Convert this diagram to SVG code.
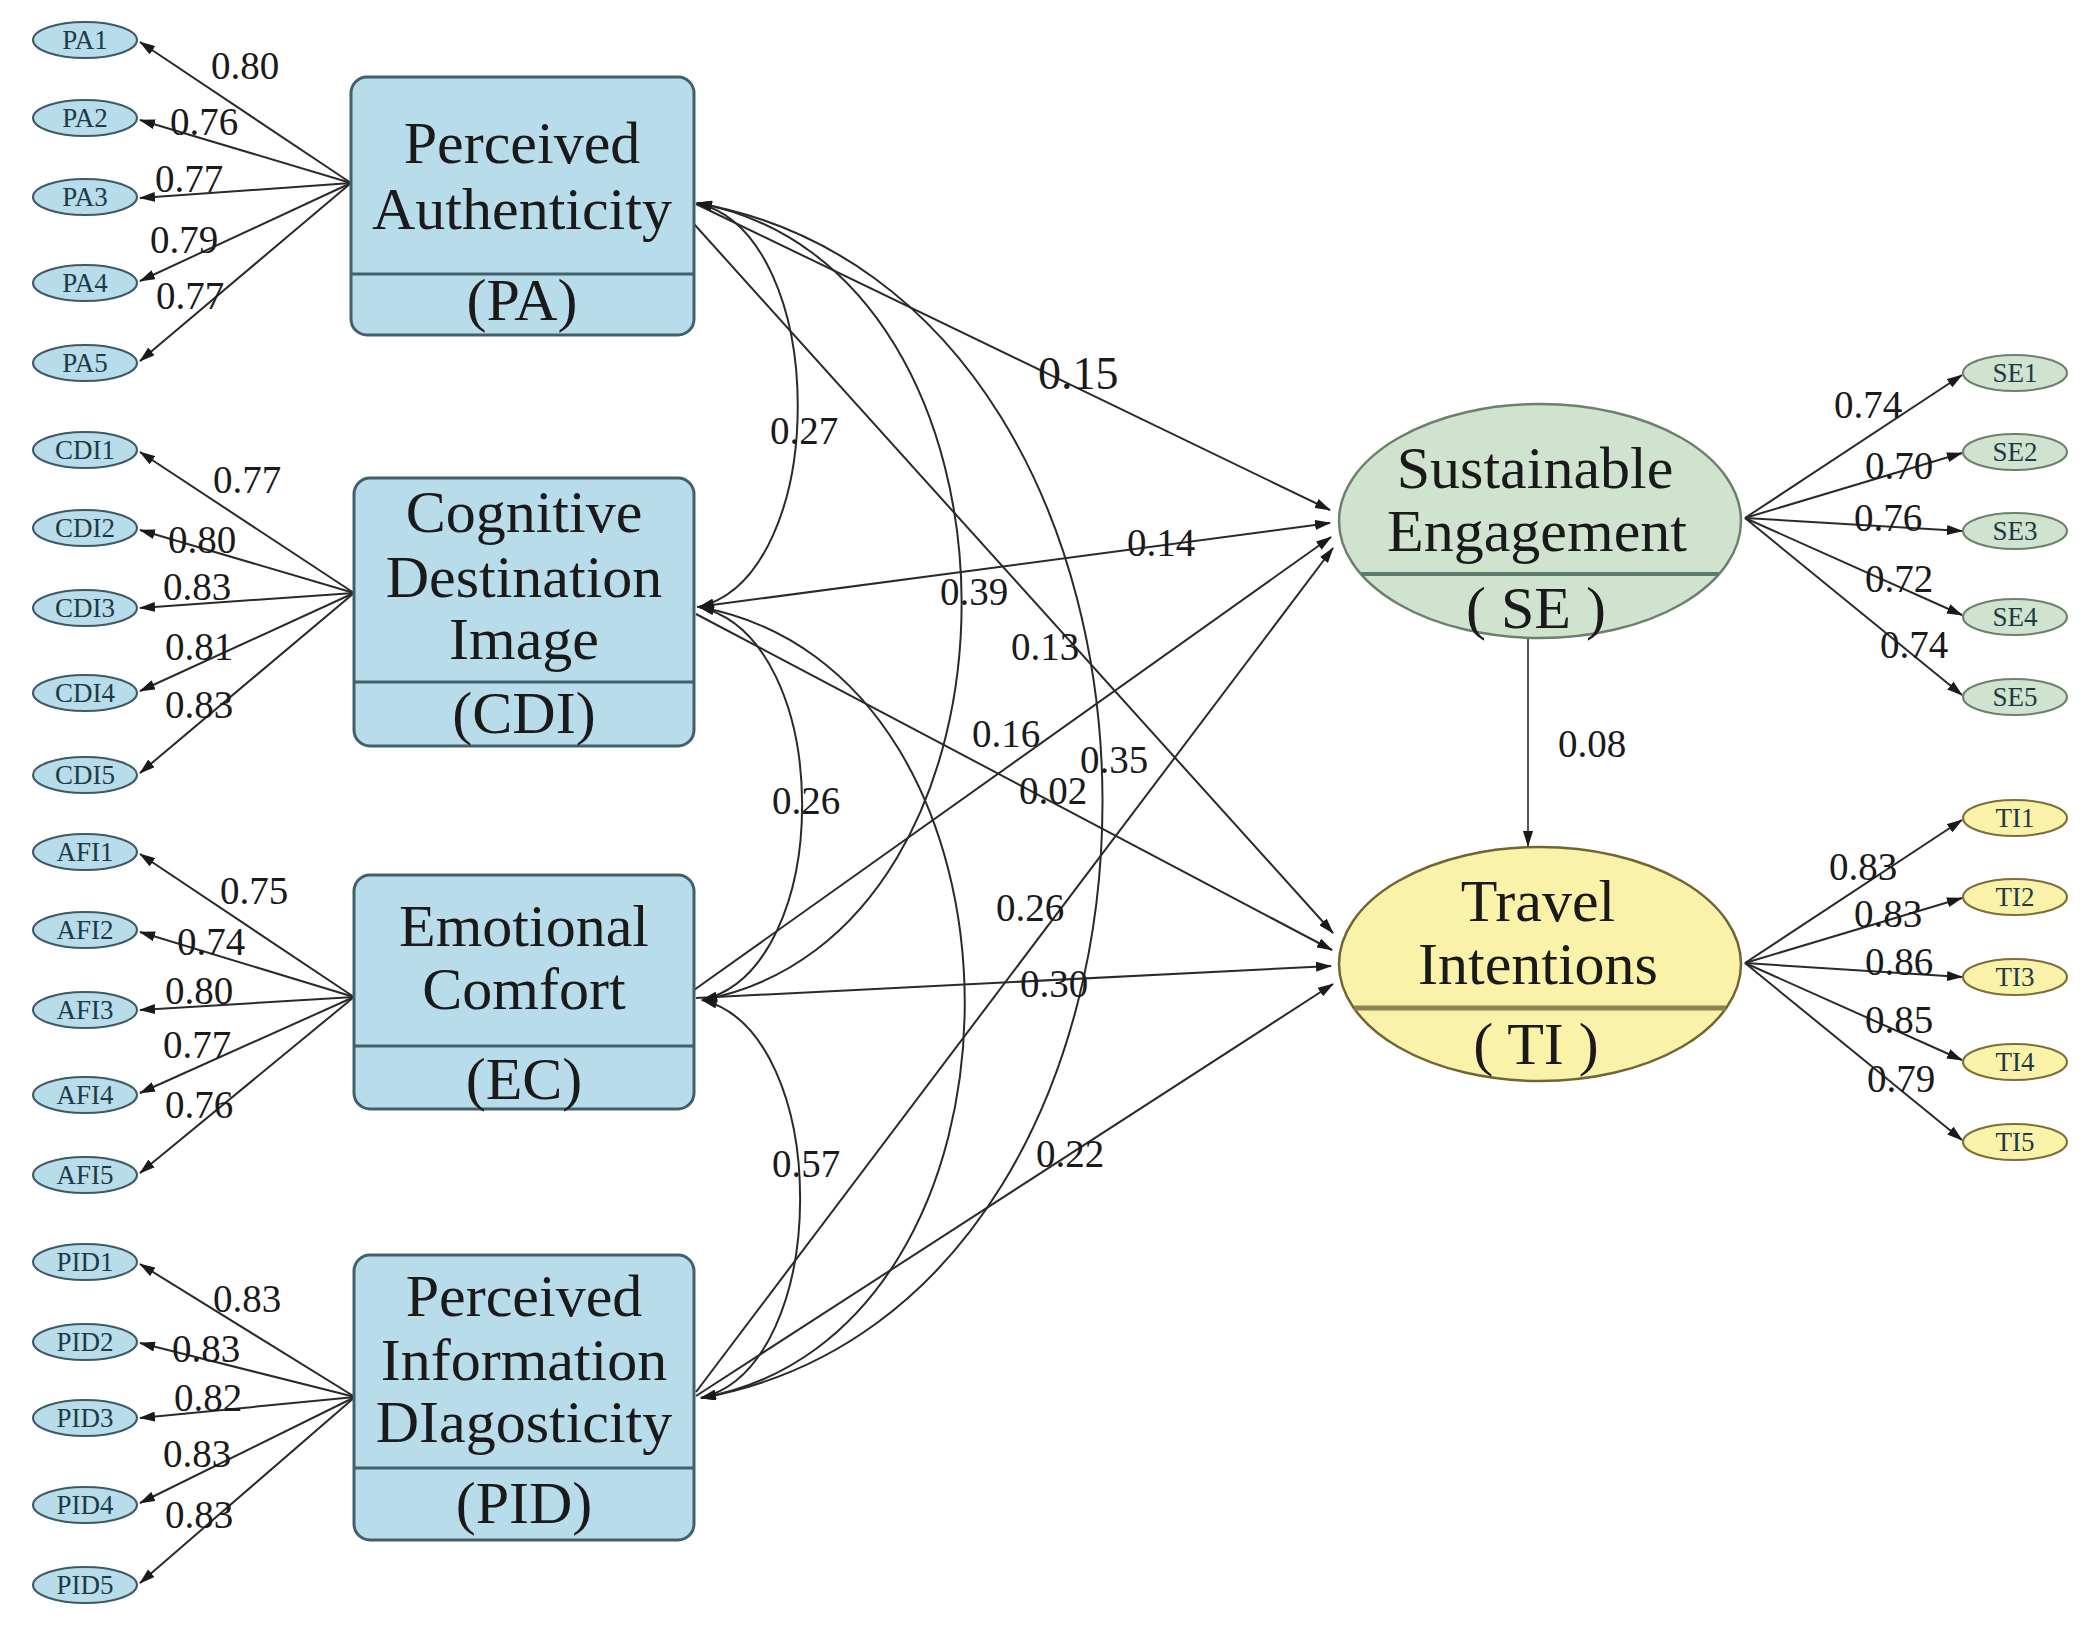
<svg xmlns="http://www.w3.org/2000/svg" width="2094" height="1638" viewBox="0 0 2094 1638">
<defs>
<style>
.t{font-family:"Liberation Serif","Times New Roman",serif;fill:#1a1a1a}
.ttl{font-size:60px;text-anchor:middle}
.num{font-size:39px}
.ind{font-size:27px;text-anchor:middle;fill:#1e3b45}
.box{fill:#b8dcea;stroke:#41606b;stroke-width:3}
.div{stroke:#41606b;stroke-width:3}
.iL{fill:#b8dcea;stroke:#3e5a66;stroke-width:2}
.iS{fill:#cfe3cf;stroke:#6d806d;stroke-width:2}
.iT{fill:#faf2a8;stroke:#7a6e3a;stroke-width:2}
.ln{fill:none;stroke:#2a2a2a;stroke-width:2}
</style>
<marker id="ah" viewBox="0 0 16 10" refX="15" refY="5" markerWidth="16" markerHeight="10" markerUnits="userSpaceOnUse" orient="auto-start-reverse">
<path d="M0,0 L16,5 L0,10 z" fill="#1a1a1a"/>
</marker>
</defs>
<rect width="2094" height="1638" fill="#ffffff"/>

<g id="connectors">
<!-- loadings PA -->
<g class="ln" marker-end="url(#ah)">
<path d="M351,183 L140,42"/><path d="M351,183 L140,120"/><path d="M351,183 L140,198"/><path d="M351,183 L140,281"/><path d="M351,183 L140,361"/>
<path d="M354,593 L140,452"/><path d="M354,593 L140,530"/><path d="M354,593 L140,608"/><path d="M354,593 L140,691"/><path d="M354,593 L140,773"/>
<path d="M354,997 L140,854"/><path d="M354,997 L140,932"/><path d="M354,997 L140,1010"/><path d="M354,997 L140,1093"/><path d="M354,997 L140,1173"/>
<path d="M355,1397 L140,1264"/><path d="M355,1397 L140,1343"/><path d="M355,1397 L140,1418"/><path d="M355,1397 L140,1503"/><path d="M355,1397 L140,1583"/>
<path d="M1745,518 L1962,375"/><path d="M1745,518 L1962,453"/><path d="M1745,518 L1962,531"/><path d="M1745,518 L1962,615"/><path d="M1745,518 L1962,695"/>
<path d="M1745,963 L1962,820"/><path d="M1745,963 L1962,898"/><path d="M1745,963 L1962,977"/><path d="M1745,963 L1962,1060"/><path d="M1745,963 L1962,1140"/>
</g>
<!-- structural paths -->
<g class="ln" marker-end="url(#ah)">
<path d="M696,204 L1330,510"/>
<path d="M694,224 L1333,933"/>
<path d="M697,607 L1330,523"/>
<path d="M696,614 L1332,950"/>
<path d="M694,990 L1331,537"/>
<path d="M696,998 L1331,966"/>
<path d="M696,1392 L1333,548"/>
<path d="M696,1396 L1333,984"/>
<path d="M1528,638 L1528,846" style="stroke:#555"/>
</g>
<!-- correlations -->
<g class="ln" marker-start="url(#ah)" marker-end="url(#ah)">
<path d="M697,203 C831,235 831,575 699,607"/>
<path d="M697,203 C1049,267 1049,936 702,1000"/>
<path d="M697,203 C1237,299 1237,1302 701,1398"/>
<path d="M699,607 C836,638 836,969 702,1000"/>
<path d="M699,607 C1053,670 1053,1335 701,1398"/>
<path d="M702,1000 C833,1032 833,1366 701,1398"/>
</g>
<!-- labels -->
<g class="t num">
<text x="211" y="79">0.80</text><text x="170" y="135">0.76</text><text x="155" y="192">0.77</text><text x="150" y="253">0.79</text><text x="156" y="309">0.77</text>
<text x="213" y="493">0.77</text><text x="168" y="553">0.80</text><text x="163" y="600">0.83</text><text x="165" y="660">0.81</text><text x="165" y="718">0.83</text>
<text x="220" y="904">0.75</text><text x="177" y="955">0.74</text><text x="165" y="1004">0.80</text><text x="163" y="1058">0.77</text><text x="165" y="1118">0.76</text>
<text x="213" y="1312">0.83</text><text x="172" y="1362">0.83</text><text x="174" y="1411">0.82</text><text x="163" y="1467">0.83</text><text x="165" y="1528">0.83</text>
<text x="1834" y="418">0.74</text><text x="1865" y="479">0.70</text><text x="1854" y="531">0.76</text><text x="1865" y="592">0.72</text><text x="1880" y="658">0.74</text>
<text x="1829" y="880">0.83</text><text x="1854" y="927">0.83</text><text x="1865" y="975">0.86</text><text x="1865" y="1033">0.85</text><text x="1867" y="1092">0.79</text>
<text x="770" y="444">0.27</text>
<text x="772" y="814">0.26</text>
<text x="772" y="1177">0.57</text>
<text x="940" y="605">0.39</text>
<text x="1080" y="773">0.35</text>
<text x="1038" y="389" style="font-size:46px">0.15</text>
<text x="1011" y="660">0.13</text>
<text x="1127" y="556">0.14</text>
<text x="1019" y="804">0.02</text>
<text x="972" y="747">0.16</text>
<text x="996" y="921">0.26</text>
<text x="1020" y="997">0.30</text>
<text x="1036" y="1167">0.22</text>
<text x="1558" y="757">0.08</text>
</g>
</g>

<g id="PA">
<rect class="box" x="351" y="77" width="343" height="258" rx="16"/>
<line class="div" x1="351" y1="274" x2="694" y2="274"/>
<text class="t ttl" x="522" y="163">Perceived</text>
<text class="t ttl" x="522" y="229">Authenticity</text>
<text class="t ttl" x="522" y="320">(PA)</text>
</g>
<g id="CDI">
<rect class="box" x="354" y="478" width="340" height="268" rx="16"/>
<line class="div" x1="354" y1="682" x2="694" y2="682"/>
<text class="t ttl" x="524" y="532">Cognitive</text>
<text class="t ttl" x="524" y="597">Destination</text>
<text class="t ttl" x="524" y="659">Image</text>
<text class="t ttl" x="524" y="733">(CDI)</text>
</g>
<g id="EC">
<rect class="box" x="354" y="875" width="340" height="234" rx="16"/>
<line class="div" x1="354" y1="1046" x2="694" y2="1046"/>
<text class="t ttl" x="524" y="946">Emotional</text>
<text class="t ttl" x="524" y="1009">Comfort</text>
<text class="t ttl" x="524" y="1099">(EC)</text>
</g>
<g id="PID">
<rect class="box" x="354" y="1255" width="340" height="285" rx="16"/>
<line class="div" x1="354" y1="1468" x2="694" y2="1468"/>
<text class="t ttl" x="524" y="1316">Perceived</text>
<text class="t ttl" x="524" y="1380">Information</text>
<text class="t ttl" x="524" y="1442">DIagosticity</text>
<text class="t ttl" x="524" y="1523">(PID)</text>
</g>
<g id="SE">
<ellipse cx="1540" cy="521" rx="201" ry="117" fill="#cfe3cf" stroke="#6d806d" stroke-width="2.5"/>
<line x1="1361" y1="574" x2="1719" y2="574" stroke="#5f7a6a" stroke-width="4"/>
<text class="t ttl" x="1535" y="488">Sustainable</text>
<text class="t ttl" x="1537" y="551">Engagement</text>
<text class="t ttl" x="1536" y="628">( SE )</text>
</g>
<g id="TI">
<ellipse cx="1540" cy="964" rx="201" ry="117" fill="#faf2a8" stroke="#6f6535" stroke-width="2.5"/>
<line x1="1354" y1="1008" x2="1726" y2="1008" stroke="#8b8150" stroke-width="5"/>
<text class="t ttl" x="1538" y="921">Travel</text>
<text class="t ttl" x="1538" y="984">Intentions</text>
<text class="t ttl" x="1536" y="1064">( TI )</text>
</g>

<g id="PA1"><ellipse class="iL" cx="85" cy="40" rx="52" ry="18"/><text class="t ind" x="85" y="49">PA1</text></g>
<g id="PA2"><ellipse class="iL" cx="85" cy="118" rx="52" ry="18"/><text class="t ind" x="85" y="127">PA2</text></g>
<g id="PA3"><ellipse class="iL" cx="85" cy="197" rx="52" ry="18"/><text class="t ind" x="85" y="206">PA3</text></g>
<g id="PA4"><ellipse class="iL" cx="85" cy="283" rx="52" ry="18"/><text class="t ind" x="85" y="292">PA4</text></g>
<g id="PA5"><ellipse class="iL" cx="85" cy="363" rx="52" ry="18"/><text class="t ind" x="85" y="372">PA5</text></g>
<g id="CDI1"><ellipse class="iL" cx="85" cy="450" rx="52" ry="18"/><text class="t ind" x="85" y="459">CDI1</text></g>
<g id="CDI2"><ellipse class="iL" cx="85" cy="528" rx="52" ry="18"/><text class="t ind" x="85" y="537">CDI2</text></g>
<g id="CDI3"><ellipse class="iL" cx="85" cy="608" rx="52" ry="18"/><text class="t ind" x="85" y="617">CDI3</text></g>
<g id="CDI4"><ellipse class="iL" cx="85" cy="693" rx="52" ry="18"/><text class="t ind" x="85" y="702">CDI4</text></g>
<g id="CDI5"><ellipse class="iL" cx="85" cy="775" rx="52" ry="18"/><text class="t ind" x="85" y="784">CDI5</text></g>
<g id="AFI1"><ellipse class="iL" cx="85" cy="852" rx="52" ry="18"/><text class="t ind" x="85" y="861">AFI1</text></g>
<g id="AFI2"><ellipse class="iL" cx="85" cy="930" rx="52" ry="18"/><text class="t ind" x="85" y="939">AFI2</text></g>
<g id="AFI3"><ellipse class="iL" cx="85" cy="1010" rx="52" ry="18"/><text class="t ind" x="85" y="1019">AFI3</text></g>
<g id="AFI4"><ellipse class="iL" cx="85" cy="1095" rx="52" ry="18"/><text class="t ind" x="85" y="1104">AFI4</text></g>
<g id="AFI5"><ellipse class="iL" cx="85" cy="1175" rx="52" ry="18"/><text class="t ind" x="85" y="1184">AFI5</text></g>
<g id="PID1"><ellipse class="iL" cx="85" cy="1262" rx="52" ry="18"/><text class="t ind" x="85" y="1271">PID1</text></g>
<g id="PID2"><ellipse class="iL" cx="85" cy="1342" rx="52" ry="18"/><text class="t ind" x="85" y="1351">PID2</text></g>
<g id="PID3"><ellipse class="iL" cx="85" cy="1418" rx="52" ry="18"/><text class="t ind" x="85" y="1427">PID3</text></g>
<g id="PID4"><ellipse class="iL" cx="85" cy="1505" rx="52" ry="18"/><text class="t ind" x="85" y="1514">PID4</text></g>
<g id="PID5"><ellipse class="iL" cx="85" cy="1585" rx="52" ry="18"/><text class="t ind" x="85" y="1594">PID5</text></g>
<g id="SE1"><ellipse class="iS" cx="2015" cy="373" rx="52" ry="18"/><text class="t ind" x="2015" y="382">SE1</text></g>
<g id="SE2"><ellipse class="iS" cx="2015" cy="452" rx="52" ry="18"/><text class="t ind" x="2015" y="461">SE2</text></g>
<g id="SE3"><ellipse class="iS" cx="2015" cy="531" rx="52" ry="18"/><text class="t ind" x="2015" y="540">SE3</text></g>
<g id="SE4"><ellipse class="iS" cx="2015" cy="617" rx="52" ry="18"/><text class="t ind" x="2015" y="626">SE4</text></g>
<g id="SE5"><ellipse class="iS" cx="2015" cy="697" rx="52" ry="18"/><text class="t ind" x="2015" y="706">SE5</text></g>
<g id="TI1"><ellipse class="iT" cx="2015" cy="818" rx="52" ry="18"/><text class="t ind" x="2015" y="827">TI1</text></g>
<g id="TI2"><ellipse class="iT" cx="2015" cy="897" rx="52" ry="18"/><text class="t ind" x="2015" y="906">TI2</text></g>
<g id="TI3"><ellipse class="iT" cx="2015" cy="977" rx="52" ry="18"/><text class="t ind" x="2015" y="986">TI3</text></g>
<g id="TI4"><ellipse class="iT" cx="2015" cy="1062" rx="52" ry="18"/><text class="t ind" x="2015" y="1071">TI4</text></g>
<g id="TI5"><ellipse class="iT" cx="2015" cy="1142" rx="52" ry="18"/><text class="t ind" x="2015" y="1151">TI5</text></g>
</svg>
